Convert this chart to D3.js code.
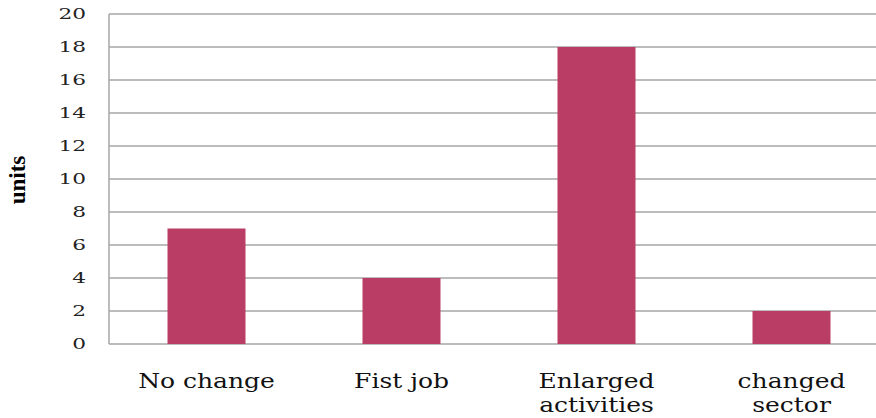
<!DOCTYPE html>
<html><head><meta charset="utf-8">
<script src="https://cdn.jsdelivr.net/npm/d3@7"></script>
<style>body{margin:0;background:#fff}svg{display:block}</style>
</head><body>
<svg id="c" width="876" height="418"></svg>
<script>
const categories = [["No change"], ["Fist job"], ["Enlarged", "activities"], ["changed", "sector"]];
const values = [7, 4, 18, 2];
const yTicks = [0, 2, 4, 6, 8, 10, 12, 14, 16, 18, 20];
const yTitle = "units";

const svg = d3.select("#c");
const W = 876, H = 418;
const m = {left: 109, top: 14, bottom: 344};
const x = d3.scaleBand().domain(d3.range(categories.length)).range([m.left, 889]).paddingInner(0.6).paddingOuter(0.3);
const y = d3.scaleLinear().domain([0, 20]).range([m.bottom, m.top]);

// gridlines
svg.append("g").selectAll("line").data(yTicks).join("line")
  .attr("x1", m.left).attr("x2", W)
  .attr("y1", d => y(d)).attr("y2", d => y(d))
  .attr("stroke", "#a6a6a6").attr("stroke-width", 1.5);

// bars
svg.append("g").selectAll("rect").data(values).join("rect")
  .attr("x", (d, i) => x(i)).attr("width", x.bandwidth())
  .attr("y", d => y(d)).attr("height", d => y(0) - y(d))
  .attr("fill", "#b93d65");

// y axis line
svg.append("line").attr("x1", m.left).attr("x2", m.left).attr("y1", m.top).attr("y2", m.bottom)
  .attr("stroke", "#a6a6a6").attr("stroke-width", 1.5);

// y tick labels (horizontally stretched to mimic the wide face)
svg.append("g").selectAll("text").data(yTicks).join("text")
  .attr("transform", d => `translate(86,${y(d) + 5}) scale(1.55,1)`)
  .attr("text-anchor", "end")
  .attr("font-family", "DejaVu Serif").attr("font-size", 14)
  .attr("fill", "#222")
  .text(d => d);

// category labels
const cl = svg.append("g").selectAll("g").data(categories).join("g")
  .attr("transform", (d, i) => `translate(${x(i) + x.bandwidth() / 2},0) scale(1.25,1)`);
cl.selectAll("text").data(d => d).join("text")
  .attr("x", 0)
  .attr("y", (d, j) => 388 + j * 24)
  .attr("text-anchor", "middle")
  .attr("font-family", "DejaVu Serif").attr("font-size", 20)
  .attr("fill", "#111")
  .text(d => d);

// y title
svg.append("text")
  .attr("transform", "translate(25,180) rotate(-90)")
  .attr("text-anchor", "middle")
  .attr("font-family", "Liberation Serif").attr("font-weight", "bold").attr("font-size", 23)
  .attr("fill", "#000")
  .text(yTitle);
</script>
</body></html>
